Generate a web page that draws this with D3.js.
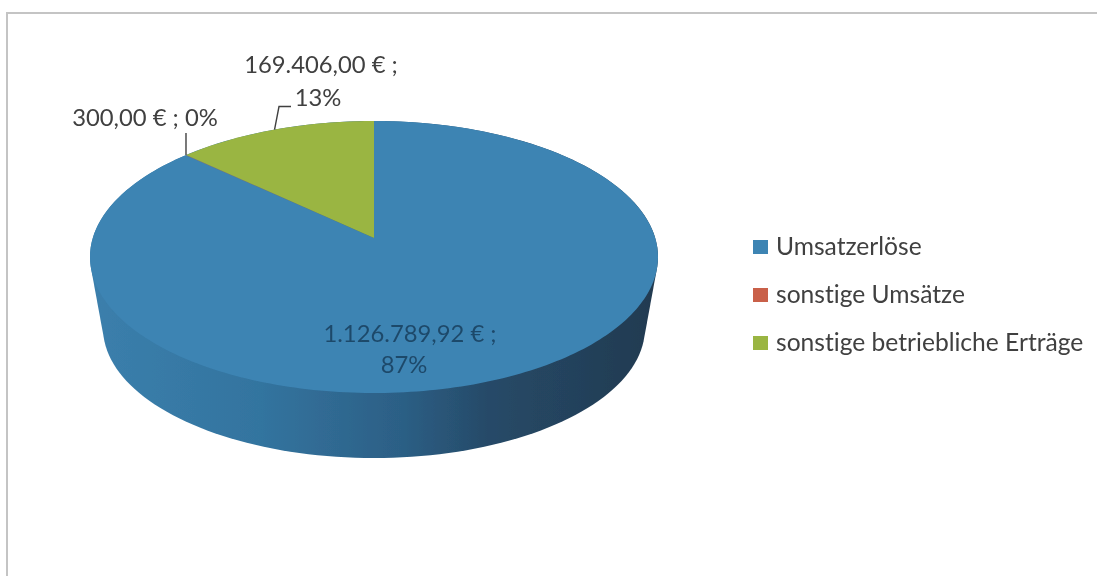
<!DOCTYPE html>
<html>
<head>
<meta charset="utf-8">
<script src="https://cdn.jsdelivr.net/npm/d3@7"></script>
<style>
  html, body { margin: 0; padding: 0; background: #fff; }
  svg { display: block; }
  text { font-family: Lato, "Open Sans", sans-serif; fill: #404040; font-variant-ligatures: none; }
</style>
</head>
<body>
<script>
// chart data
const categories = ['Umsatzerlöse', 'sonstige Umsätze', 'sonstige betriebliche Erträge']
const values = [1126789.92, 300, 169406]
const valueLabels = ['1.126.789,92 €', '300,00 €', '169.406,00 €']
const percentLabels = ['87%', '0%', '13%']
const colors = ['#3d84b3', '#c9604a', '#9ab542']

const width = 1097
const height = 576

// top face is an ellipse seen in perspective, the pie centre sits above the ellipse centre
const face = { cx: 374, cy: 257, rx: 284, ry: 136, tilt: -0.14 }
const base = { cx: 374, cy: 328, rx: 271, ry: 130 }

const svg = d3.select('body')
  .append('svg')
  .attr('width', width)
  .attr('height', height)

const defs = svg.append('defs')
const wallGradient = defs.append('linearGradient')
  .attr('id', 'wall')
  .attr('gradientUnits', 'userSpaceOnUse')
  .attr('x1', face.cx - face.rx)
  .attr('x2', face.cx + face.rx)
  .attr('y1', 0)
  .attr('y2', 0)
wallGradient.selectAll('stop')
  .data([
    [0, '#3b7fac'],
    [0.3, '#33749f'],
    [0.55, '#2c5f85'],
    [0.7, '#264a68'],
    [1, '#223a50']
  ])
  .join('stop')
  .attr('offset', d => d[0])
  .attr('stop-color', d => d[1])

// the reference is a scan, everything is a bit soft
defs.append('filter')
  .attr('id', 'soft')
  .append('feGaussianBlur')
  .attr('stdDeviation', 0.6)

const chart = svg.append('g')
  .attr('filter', 'url(#soft)')

// frame
const frame = d3.line()
chart.append('path')
  .attr('d', frame([[7, height], [7, 13], [width, 13]]))
  .attr('fill', 'none')
  .attr('stroke', '#c4c4c4')
  .attr('stroke-width', 2)

// angle is clockwise from 12 o'clock, r is 0..1 on the pie disc
function project(angle, r) {
  const X = r * Math.sin(angle)
  const Y = -r * Math.cos(angle)
  const k = face.tilt
  const w = 1 + k * Y
  const a = face.rx * Math.sqrt(1 - k * k)
  return [
    face.cx + a * X / w,
    face.cy + (face.ry * Y + k * face.ry) / w
  ]
}

const line = d3.line()
const steps = d3.range(0, 361, 2).map(d => d * Math.PI / 180)

// side wall, hull of the top face and the lower ellipse
const rim = steps.map(t => project(t, 1))
const lower = steps.map(t => [base.cx + base.rx * Math.sin(t), base.cy + base.ry * Math.cos(t)])
chart.append('path')
  .attr('d', line(d3.polygonHull(rim.concat(lower))) + 'Z')
  .attr('fill', 'url(#wall)')

// slices
const pie = d3.pie().sort(null)
const slices = pie(values)

function slicePath(d) {
  const n = Math.max(2, Math.ceil((d.endAngle - d.startAngle) / 0.02))
  const pts = d3.range(n + 1).map(i => project(d.startAngle + (d.endAngle - d.startAngle) * i / n, 1))
  return line([project(0, 0), ...pts]) + 'Z'
}

chart.append('g')
  .selectAll('path')
  .data(slices)
  .join('path')
  .attr('d', slicePath)
  .attr('fill', (d, i) => colors[i])

// leader lines
const anchor = d => project((d.startAngle + d.endAngle) / 2, 1)
const leaders = chart.append('g')
  .attr('fill', 'none')
  .attr('stroke', '#404040')
  .attr('stroke-width', 1.4)
const smallAnchor = anchor(slices[1])
leaders.append('path').attr('d', line([smallAnchor, [smallAnchor[0], 133]]))
const greenAnchor = anchor(slices[2])
leaders.append('path').attr('d', line([greenAnchor, [279, 106.5], [291, 106.5]]))

// data labels
const labelSize = 23.8
function label(txt, x, y, fill) {
  chart.append('text')
    .attr('x', x)
    .attr('y', y)
    .attr('text-anchor', 'middle')
    .attr('font-size', labelSize)
    .style('fill', fill || '#404040')
    .text(txt)
}
label(`${valueLabels[2]} ;`, 321, 73)
label(percentLabels[2], 318, 106)
label(`${valueLabels[1]} ; ${percentLabels[1]}`, 145, 126)
label(`${valueLabels[0]} ;`, 410, 342, '#1f4a6b')
label(percentLabels[0], 404, 373, '#1f4a6b')

// legend
const legendY = d3.scalePoint().domain(categories).range([247, 343])
const legend = chart.append('g')
  .selectAll('g')
  .data(categories)
  .join('g')
  .attr('transform', d => `translate(753, ${legendY(d)})`)
legend.append('rect')
  .attr('y', -7)
  .attr('width', 15)
  .attr('height', 14)
  .attr('fill', (d, i) => colors[i])
legend.append('text')
  .attr('x', 23)
  .attr('y', 8)
  .attr('font-size', 24.6)
  .text(d => d)
</script>
</body>
</html>
